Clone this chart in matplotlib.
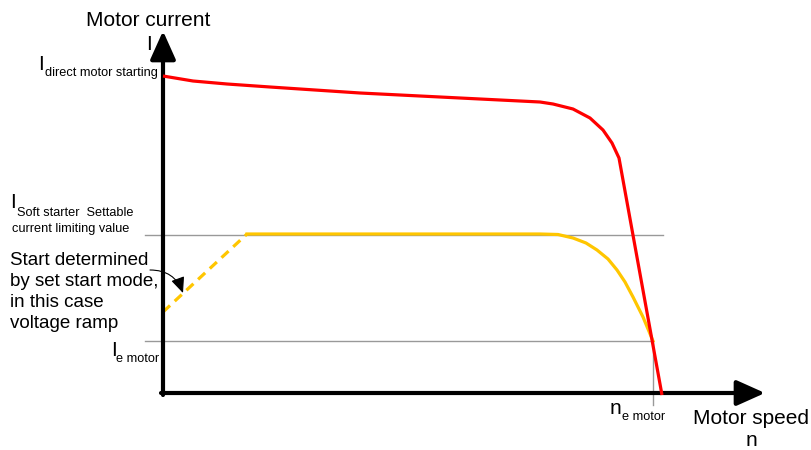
import matplotlib.pyplot as plt
import numpy as np

plt.rcParams['font.family'] = ['Liberation Sans', 'DejaVu Sans']

# speed n / current I in drawing units (origin at the axes corner)
red_n = [0, 30, 64, 107, 197, 297, 377, 390, 410, 427, 440, 449, 456, 499]
red_i = [317, 312, 309, 306, 300, 295, 291, 289, 284, 275, 263, 250, 235, -2]

ramp_n = [0, 84]
ramp_i = [81, 159]

soft_n = [84, 377, 395, 410, 423, 434, 445, 454, 462, 470, 480, 490]
soft_i = [159, 159, 158.5, 155, 150, 143, 134, 123, 111, 96, 76, 52]

i_limit = 158
i_e = 52
n_e = 490

fig = plt.figure(figsize=(8.11, 4.5), dpi=100)
ax = fig.add_axes([0, 0, 1, 1])
ax.set_xlim(-163, 648)
ax.set_ylim(-57, 393)
ax.axis('off')

# reference lines
ax.plot([-18, 500], [i_limit, i_limit], color='#999999', lw=1)
ax.plot([-18, n_e], [i_e, i_e], color='#999999', lw=1)
ax.plot([n_e, n_e], [i_e, -12], color='#999999', lw=1)

# curves
ax.plot(red_n, red_i, color='#ff0000', lw=2.3, solid_capstyle='butt',
        solid_joinstyle='round', zorder=4)
ax.plot(soft_n, soft_i, color='#ffc600', lw=2.3, solid_joinstyle='round', zorder=3)
ax.plot(ramp_n, ramp_i, color='#ffc600', lw=2.3, ls=(0, (3, 2)), zorder=3)

# axes with arrows
arr = dict(arrowstyle='-|>,head_length=1.45,head_width=0.65', lw=3,
           color='black', shrinkA=0, shrinkB=0, mutation_scale=12)
ax.annotate('', xy=(0, 362), xytext=(0, -2), arrowprops=arr)
ax.annotate('', xy=(602, 0), xytext=(-2, 0), arrowprops=arr)

# labels
ax.text(-15, 373, 'Motor current', fontsize=15, ha='center', va='center')
ax.text(-14, 348, 'I', fontsize=15, ha='center', va='center')

ax.text(-125, 329, 'I', fontsize=15, ha='left', va='center')
ax.text(-118, 320, 'direct motor starting', fontsize=9.2, ha='left', va='center')

ax.text(-153, 190, 'I', fontsize=15, ha='left', va='center')
ax.text(-146, 180, 'Soft starter  Settable', fontsize=9.2, ha='left', va='center')
ax.text(-151, 164, 'current limiting value', fontsize=9.2, ha='left', va='center')

ax.text(-153, 141, 'Start determined\nby set start mode,\nin this case\nvoltage ramp',
        fontsize=13.5, ha='left', va='top', linespacing=1.3)
ax.annotate('', xy=(20, 100), xytext=(-13, 123),
            arrowprops=dict(arrowstyle='-|>,head_length=0.8,head_width=0.35',
                            color='black', lw=0.8, connectionstyle='arc3,rad=-0.35',
                            mutation_scale=12, shrinkA=0, shrinkB=0))

ax.text(-52, 42, 'I', fontsize=15, ha='left', va='center')
ax.text(-47, 34, 'e motor', fontsize=9.2, ha='left', va='center')

ax.text(447, -16, 'n', fontsize=15, ha='left', va='center')
ax.text(459, -24, 'e motor', fontsize=9.2, ha='left', va='center')

ax.text(588, -25, 'Motor speed', fontsize=15, ha='center', va='center')
ax.text(588, -47, 'n', fontsize=15, ha='center', va='center')

fig.savefig('out.png', dpi=100)
